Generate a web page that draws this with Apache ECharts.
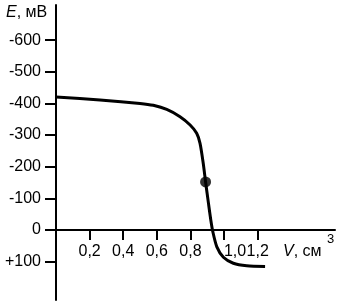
<!DOCTYPE html>
<html><head><meta charset="utf-8">
<script src="https://cdn.jsdelivr.net/npm/echarts@6/dist/echarts.min.js"></script>
<style>html,body{margin:0;padding:0;background:#fff}#c{width:340px;height:307px}</style>
</head><body><div id="c"></div>
<script>
var volumes = [0, 0.262, 0.5, 0.579, 0.659, 0.738, 0.798, 0.837, 0.857, 0.876, 0.890, 0.907, 0.921, 0.933, 0.957, 0.996, 1.055, 1.135, 1.244];
var potentials = [-420, -411, -400, -394, -381, -358, -332, -306, -274, -211, -152, -85, -32, 5, 53, 86, 105, 113, 115];
var pointV = [0.890];
var pointE = [-152];
var xTicks = [0.2, 0.4, 0.6, 0.8, 1.0, 1.2];
var yTicks = [-600, -500, -400, -300, -200, -100, 0, 100];

var FONT = 'Liberation Sans, Arial, sans-serif';
var FS = 16;
var Y_MIN = -711, Y_MAX = 221, GRID_TOP = 5, GRID_BOTTOM = 7, H = 307;
var plotH = H - GRID_TOP - GRID_BOTTOM;
// move x axis from grid bottom up to E = 0
var xAxisOffset = -(Y_MAX / (Y_MAX - Y_MIN)) * plotH;

var chart = echarts.init(document.getElementById('c'), null, {renderer: 'canvas'});
chart.setOption({
  animation: false,
  grid: {left: 56, right: 5, top: GRID_TOP, bottom: GRID_BOTTOM, containLabel: false, outerBoundsMode: 'none'},
  xAxis: {
    type: 'value', min: 0, max: 1.66, position: 'bottom', offset: xAxisOffset,
    axisLine: {show: true, onZero: false, lineStyle: {color: '#000', width: 2}},
    axisTick: {show: true, customValues: xTicks, length: 10, lineStyle: {color: '#000', width: 2}},
    axisLabel: {
      show: true, hideOverlap: false,
      customValues: xTicks, margin: 14, color: '#000', fontFamily: FONT, fontSize: FS,
      formatter: function (v) {
        var s = v.toFixed(1).replace('.', ',');
        return Math.abs(v - 1.0) < 1e-6 ? '{r|' + s + '}' : s;
      },
      rich: {r: {fontFamily: FONT, fontSize: FS, color: '#000', padding: [0, 0, 0, 22]}}
    },
    splitLine: {show: false}
  },
  yAxis: {
    type: 'value', min: Y_MIN, max: Y_MAX, inverse: true,
    axisLine: {show: true, onZero: false, lineStyle: {color: '#000', width: 2}},
    axisTick: {show: true, customValues: yTicks, length: 11, lineStyle: {color: '#000', width: 2}},
    axisLabel: {
      customValues: yTicks, margin: 15, color: '#000', fontFamily: FONT, fontSize: FS,
      formatter: function (v) { return v > 0 ? '+' + v : String(v); }
    },
    splitLine: {show: false}
  },
  series: [
    {
      type: 'line', smooth: 0.25, symbol: 'none',
      lineStyle: {color: '#000', width: 3},
      data: volumes.map(function (v, i) { return [v, potentials[i]]; }),
      z: 3
    },
    {
      type: 'scatter', symbol: 'circle', symbolSize: 11,
      itemStyle: {color: '#000'},
      data: pointV.map(function (v, i) { return [v, pointE[i]]; }),
      z: 4
    }
  ],
  graphic: [
    {type: 'text', left: 6, top: 5, style: {
      text: '{i|E}, мВ', fill: '#000', font: FS + 'px ' + FONT,
      rich: {i: {fontStyle: 'italic', fontFamily: FONT, fontSize: FS, fill: '#000'}}
    }},
    {type: 'text', left: 283, top: 244, style: {
      text: '{i|V}, см', fill: '#000', font: FS + 'px ' + FONT,
      rich: {i: {fontStyle: 'italic', fontFamily: FONT, fontSize: FS, fill: '#000'}}
    }},
    {type: 'text', left: 327, top: 233, style: {text: '3', fill: '#000', font: '13px ' + FONT}}
  ]
});
</script>
</body></html>
